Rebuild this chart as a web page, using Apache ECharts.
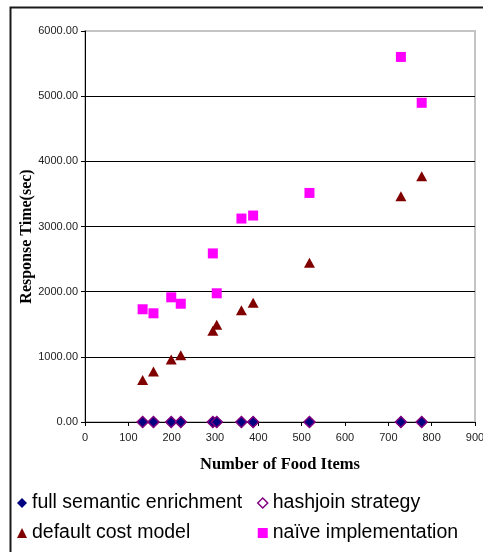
<!DOCTYPE html>
<html>
<head>
<meta charset="utf-8">
<script src="https://cdn.jsdelivr.net/npm/echarts@6/dist/echarts.min.js"></script>
<style>
html,body{margin:0;padding:0;background:#fff;}
#chart{width:483px;height:552px;}
</style>
</head>
<body>
<div id="chart"></div>
<script>
// Data
var foodItems = [133, 158, 199, 221, 295, 304, 361, 388, 518, 729, 777];
var fullSemantic = [0, 0, 0, 0, 0, 0, 0, 0, 0, 0, 0];
var hashjoin = [0, 0, 0, 0, 0, 0, 0, 0, 0, 0, 0];
var defaultCost = [643, 775, 960, 1025, 1402, 1494, 1714, 1831, 2443, 3464, 3770];
var naive = [1730, 1668, 1913, 1815, 2587, 1975, 3122, 3168, 3515, 5602, 4898];
var seriesNames = ['full semantic enrichment', 'hashjoin strategy', 'default cost model', 'naïve implementation'];
var xTicks = [0, 100, 200, 300, 400, 500, 600, 700, 800, 900];
var yTicks = [0, 1000, 2000, 3000, 4000, 5000, 6000];

function pairs(xs, ys) { return xs.map(function (x, i) { return [x, ys[i]]; }); }

var chart = echarts.init(document.getElementById('chart'), null, { renderer: 'canvas' });
var option = {
  animation: false,
  backgroundColor: '#fff',
  graphic: [{
    type: 'rect', left: 8, top: 5, z: -10,
    shape: { width: 500, height: 560 },
    style: { fill: 'none', stroke: '#1a1a1a', lineWidth: 2 }
  }],
  grid: {
    left: 85, right: 8, top: 31, bottom: 130,
    outerBoundsMode: 'none', containLabel: false,
    show: true, borderColor: '#c4c4c4', borderWidth: 2, backgroundColor: 'transparent'
  },
  legend: [{
    orient: 'vertical', left: 12, top: 488, itemGap: 10, padding: 5,
    itemWidth: 10, itemHeight: 10,
    textStyle: { fontFamily: 'Liberation Sans, Arial', fontSize: 19.5, color: '#000' },
    data: [
      { name: seriesNames[0], icon: 'diamond', itemStyle: { color: '#000080', borderColor: '#000080', borderWidth: 0 } },
      { name: seriesNames[2], icon: 'triangle', itemStyle: { color: '#800000', borderWidth: 0 } }
    ]
  }, {
    orient: 'vertical', left: 252, top: 488, itemGap: 10, padding: 5,
    itemWidth: 10, itemHeight: 10,
    textStyle: { fontFamily: 'Liberation Sans, Arial', fontSize: 19.5, color: '#000' },
    data: [
      { name: seriesNames[1], icon: 'diamond', itemStyle: { color: '#fff', borderColor: '#800080', borderWidth: 1.5 } },
      { name: seriesNames[3], icon: 'rect', itemStyle: { color: '#ff00ff', borderWidth: 0 } }
    ]
  }],
  xAxis: {
    type: 'value', min: 0, max: 900, interval: 100,
    name: 'Number of Food Items', nameLocation: 'middle', nameGap: 34, nameMoveOverlap: false,
    nameTextStyle: { fontFamily: 'Liberation Serif, Times New Roman', fontWeight: 'bold', fontSize: 16.5, color: '#000' },
    axisLine: { show: true, onZero: false, lineStyle: { color: '#000', width: 1 } },
    axisTick: { show: true, inside: false, length: 4, lineStyle: { color: '#000' } },
    axisLabel: { fontFamily: 'Liberation Sans, Arial', fontSize: 11, color: '#222', margin: 10,
      formatter: function (v) { return xTicks.indexOf(v) >= 0 ? String(v) : ''; } },
    splitLine: { show: false }
  },
  yAxis: {
    type: 'value', min: 0, max: 6000, interval: 1000,
    name: 'Response Time(sec)', nameLocation: 'middle', nameGap: 50, nameMoveOverlap: false,
    nameTextStyle: { fontFamily: 'Liberation Serif, Times New Roman', fontWeight: 'bold', fontSize: 16, color: '#000', padding: [0, 20, 0, 0] },
    axisLine: { show: true, lineStyle: { color: '#000', width: 1 } },
    axisTick: { show: true, inside: false, length: 4, lineStyle: { color: '#000' } },
    axisLabel: { fontFamily: 'Liberation Sans, Arial', fontSize: 11, color: '#222', margin: 7,
      formatter: function (v) { return yTicks.indexOf(v) >= 0 ? v.toFixed(2) : ''; } },
    splitLine: { show: true, lineStyle: { color: ['#000', '#000', '#000', '#000', '#000', '#000', '#c4c4c4'], width: 1 } }
  },
  series: [{
    name: seriesNames[1], type: 'scatter', symbol: 'diamond', symbolSize: 10, z: 2,
    itemStyle: { color: '#fff', borderColor: '#800080', borderWidth: 1.5, opacity: 1 },
    data: pairs(foodItems, hashjoin)
  }, {
    name: seriesNames[0], type: 'scatter', symbol: 'diamond', symbolSize: 11, z: 3,
    itemStyle: { color: '#000080', borderColor: '#800080', borderWidth: 1.5, opacity: 1 },
    data: pairs(foodItems, fullSemantic)
  }, {
    name: seriesNames[2], type: 'scatter', symbol: 'triangle', symbolSize: [11, 10], z: 3,
    itemStyle: { color: '#800000', opacity: 1 },
    data: pairs(foodItems, defaultCost)
  }, {
    name: seriesNames[3], type: 'scatter', symbol: 'rect', symbolSize: 10, z: 3,
    itemStyle: { color: '#ff00ff', opacity: 1 },
    data: pairs(foodItems, naive)
  }]
};
chart.setOption(option);
</script>
</body>
</html>
